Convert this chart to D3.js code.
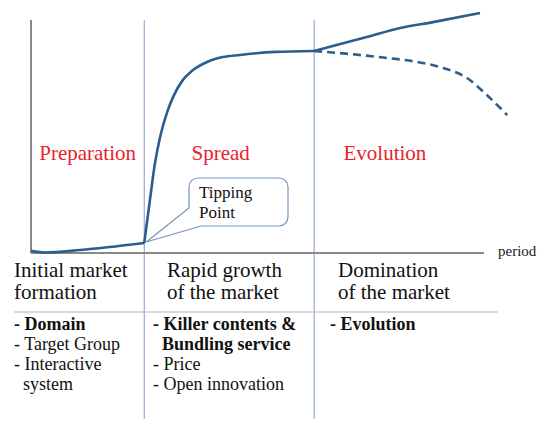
<!DOCTYPE html>
<html>
<head>
<meta charset="utf-8">
<script src="https://cdn.jsdelivr.net/npm/d3@7/dist/d3.min.js"></script>
<style>
  body { margin: 0; background: #fff; }
</style>
</head>
<body>
<div id="chart"></div>
<script>
const width = 550, height = 434;
const serif = "Liberation Serif";

// period (t) vs. market size (v)
const prepCurve = [
  { t: 0, v: 0.9 }, { t: 0.25, v: 0.2 }, { t: 0.87, v: 1.3 }, { t: 2, v: 4.3 }
];
const spreadCurve = [
  { t: 2, v: 4.3 }, { t: 2.1, v: 22.7 }, { t: 2.19, v: 38.6 }, { t: 2.28, v: 49.8 },
  { t: 2.4, v: 60.1 }, { t: 2.51, v: 67 }, { t: 2.68, v: 74.2 }, { t: 2.86, v: 78.5 },
  { t: 3.11, v: 82 }, { t: 3.39, v: 84.1 }, { t: 3.69, v: 85 }, { t: 4.31, v: 86.3 },
  { t: 5, v: 86.7 }
];
const evolutionUp = [
  { t: 5, v: 86.7 }, { t: 5.33, v: 88.8 }, { t: 5.93, v: 92.7 }, { t: 6.52, v: 96.6 },
  { t: 7.1, v: 99.1 }, { t: 7.93, v: 103 }
];
const evolutionDown = [
  { t: 5, v: 86.7 }, { t: 5.63, v: 85.4 }, { t: 6.22, v: 83.9 }, { t: 6.82, v: 82 },
  { t: 7.28, v: 79.4 }, { t: 7.7, v: 75.1 }, { t: 8.05, v: 67.8 }, { t: 8.41, v: 59.2 }
];

const phaseBounds = [2, 5];
const phaseNames = ["Preparation", "Spread", "Evolution"];
const phaseCenters = [1, 3.35, 6.25];
const tippingPoint = { t: 2, v: 4.3 };
const tippingLabel = ["Tipping", "Point"];

const stageTitles = [
  ["Initial market", "formation"],
  ["Rapid growth", "of the market"],
  ["Domination", "of the market"]
];
const stageItems = [
  [{ s: "- Domain", b: true }, { s: "- Target Group" }, { s: "- Interactive" }, { s: "  system" }],
  [{ s: "- Killer contents &", b: true }, { s: "  Bundling service", b: true }, { s: "- Price" }, { s: "- Open innovation" }],
  [{ s: "- Evolution", b: true }]
];

const svg = d3.select("#chart").append("svg")
  .attr("width", width)
  .attr("height", height);

const xScale = d3.scaleLinear().domain([0, 8]).range([31, 484]);
const yScale = d3.scaleLinear().domain([0, 100]).range([253, 20]);

const line = d3.line()
  .x(d => xScale(d.t))
  .y(d => yScale(d.v))
  .curve(d3.curveMonotoneX);

// phase dividers
svg.selectAll(".divider")
  .data(phaseBounds)
  .join("line")
  .attr("x1", d => xScale(d)).attr("x2", d => xScale(d))
  .attr("y1", yScale(100)).attr("y2", 419)
  .style("stroke", "#7f9bd3")
  .style("stroke-width", 1);

// axes
svg.append("line")
  .attr("x1", xScale(0)).attr("x2", xScale(0))
  .attr("y1", yScale(100)).attr("y2", yScale(0))
  .style("stroke", "#8a8a8a").style("stroke-width", 2);
svg.append("line")
  .attr("x1", xScale(0)).attr("x2", xScale(8))
  .attr("y1", yScale(0)).attr("y2", yScale(0))
  .style("stroke", "#8a8a8a").style("stroke-width", 2);

svg.append("text")
  .attr("x", 498).attr("y", 256)
  .style("font-family", serif)
  .style("font-size", "15px")
  .style("fill", "#222")
  .text("period");

// curves
[prepCurve, spreadCurve, evolutionUp].forEach(c => {
  svg.append("path")
    .attr("d", line(c))
    .style("fill", "none")
    .style("stroke", "#2d5d8c")
    .style("stroke-width", 2.6);
});
svg.append("path")
  .attr("d", line(evolutionDown))
  .style("fill", "none")
  .style("stroke", "#2d5d8c")
  .style("stroke-width", 2.6)
  .style("stroke-dasharray", "8,5");

// phase names
svg.selectAll(".phase")
  .data(phaseNames)
  .join("text")
  .attr("x", (d, i) => xScale(phaseCenters[i]))
  .attr("y", 160)
  .attr("text-anchor", "middle")
  .style("font-family", serif)
  .style("font-size", "21px")
  .style("fill", "#e8232c")
  .text(d => d);

// tipping point callout
const bx = 189, by = 178, bw = 99, bh = 48, r = 9;
const tx = xScale(tippingPoint.t) + 2, ty = yScale(tippingPoint.v) - 1;
const callout = d3.path();
callout.moveTo(bx + r, by);
callout.lineTo(bx + bw - r, by);
callout.arcTo(bx + bw, by, bx + bw, by + r, r);
callout.lineTo(bx + bw, by + bh - r);
callout.arcTo(bx + bw, by + bh, bx + bw - r, by + bh, r);
callout.lineTo(bx + 12, by + bh);
callout.lineTo(tx, ty);
callout.lineTo(bx, by + 30);
callout.lineTo(bx, by + r);
callout.arcTo(bx, by, bx + r, by, r);
callout.closePath();
svg.append("path")
  .attr("d", callout.toString())
  .style("fill", "#fff")
  .style("stroke", "#7593bd")
  .style("stroke-width", 1.2);

svg.selectAll(".tip")
  .data(tippingLabel)
  .join("text")
  .attr("x", 199)
  .attr("y", (d, i) => 198 + i * 20)
  .style("font-family", serif)
  .style("font-size", "17px")
  .style("fill", "#111")
  .text(d => d);

// table rule
svg.append("line")
  .attr("x1", 14).attr("x2", 498)
  .attr("y1", 312).attr("y2", 312)
  .style("stroke", "#b5b5b5").style("stroke-width", 1);

const colX = [14, 167, 338];
const itemX = [14, 153, 330];

stageTitles.forEach((lines, i) => {
  svg.selectAll(null)
    .data(lines)
    .join("text")
    .attr("x", colX[i])
    .attr("y", (d, j) => 277 + j * 22)
    .style("font-family", serif)
    .style("font-size", "21px")
    .style("fill", "#111")
    .text(d => d);
});

stageItems.forEach((items, i) => {
  svg.selectAll(null)
    .data(items)
    .join("text")
    .attr("x", itemX[i])
    .attr("y", (d, j) => 330 + j * 20)
    .style("white-space", "pre")
    .style("font-family", serif)
    .style("font-size", "18px")
    .style("font-weight", d => d.b ? "bold" : "normal")
    .style("fill", "#111")
    .text(d => d.s);
});
</script>
</body>
</html>
